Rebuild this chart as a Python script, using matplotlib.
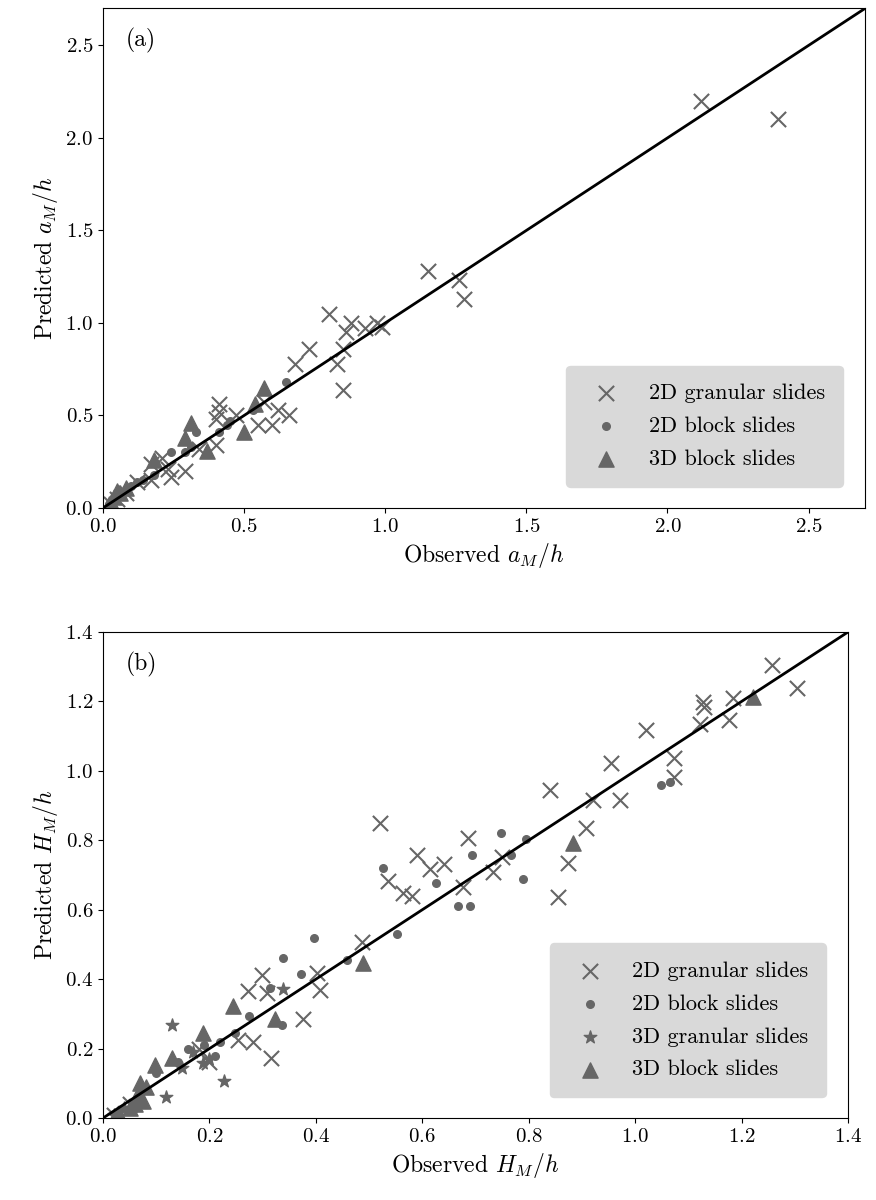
import numpy as np
import matplotlib
matplotlib.use("Agg")
import matplotlib.pyplot as plt

plt.rcParams.update({
    "font.family": "serif",
    "font.serif": ["cmr10"],
    "mathtext.fontset": "cm",
    "axes.formatter.use_mathtext": True,
    "font.size": 15,
})

# ---- panel (a): a_M/h ----
a_gran_obs = [2.12, 2.39, 1.15, 1.26, 1.28, 0.80, 0.88, 0.86, 0.93, 0.97, 0.99, 0.85, 0.83, 0.85,
              0.73, 0.68, 0.41, 0.41, 0.40, 0.47, 0.57, 0.62, 0.66, 0.55, 0.60, 0.40, 0.34, 0.21,
              0.23, 0.29, 0.17, 0.17, 0.24, 0.12, 0.08, 0.05, 0.03]
a_gran_pred = [2.20, 2.10, 1.28, 1.23, 1.13, 1.05, 1.00, 0.95, 0.97, 1.00, 0.98, 0.86, 0.78, 0.64,
               0.86, 0.78, 0.56, 0.52, 0.48, 0.50, 0.57, 0.53, 0.50, 0.45, 0.45, 0.34, 0.32, 0.27,
               0.21, 0.20, 0.24, 0.15, 0.17, 0.14, 0.08, 0.05, 0.02]
a_block2_obs = [0.65, 0.53, 0.45, 0.44, 0.41, 0.33, 0.31, 0.24, 0.29, 0.18, 0.14, 0.12, 0.10, 0.08,
                0.06, 0.05, 0.04, 0.03, 0.02]
a_block2_pred = [0.68, 0.53, 0.47, 0.45, 0.41, 0.41, 0.33, 0.30, 0.30, 0.18, 0.15, 0.14, 0.12, 0.10,
                 0.08, 0.06, 0.05, 0.03, 0.02]
a_block3_obs = [0.57, 0.31, 0.29, 0.37, 0.50, 0.18, 0.54, 0.08, 0.06, 0.04, 0.03, 0.02, 0.05]
a_block3_pred = [0.65, 0.46, 0.38, 0.31, 0.41, 0.26, 0.56, 0.11, 0.08, 0.06, 0.03, 0.02, 0.09]

# ---- panel (b): H_M/h ----
h_gran_obs = [0.84, 0.52, 0.686, 0.59, 0.615, 0.64, 0.536, 0.564, 0.58, 0.677, 0.733, 0.75, 0.874,
              0.855, 0.487, 0.299, 0.273, 0.308, 0.402, 0.408, 0.376, 0.282, 0.315, 0.254, 1.258,
              1.305, 1.128, 1.13, 1.184, 1.177, 1.122, 1.02, 0.955, 1.073, 1.073, 0.972, 0.921,
              0.908, 0.20, 0.18, 0.05, 0.02]
h_gran_pred = [0.945, 0.85, 0.807, 0.757, 0.717, 0.732, 0.683, 0.648, 0.64, 0.666, 0.709, 0.752,
               0.734, 0.637, 0.507, 0.412, 0.366, 0.361, 0.418, 0.369, 0.285, 0.219, 0.173, 0.225,
               1.306, 1.239, 1.199, 1.185, 1.21, 1.147, 1.135, 1.118, 1.023, 1.037, 0.983, 0.916,
               0.916, 0.836, 0.16, 0.20, 0.04, 0.01]
h_block2_obs = [0.526, 0.626, 0.693, 0.748, 0.795, 0.767, 0.789, 0.667, 0.69, 0.553, 0.397, 0.339,
                0.372, 0.459, 0.314, 0.274, 0.336, 0.248, 1.049, 1.066, 0.19, 0.16, 0.22, 0.14,
                0.21, 0.10, 0.07, 0.03]
h_block2_pred = [0.72, 0.678, 0.758, 0.82, 0.803, 0.758, 0.69, 0.61, 0.61, 0.53, 0.52, 0.46, 0.415,
                 0.455, 0.375, 0.294, 0.268, 0.245, 0.96, 0.968, 0.21, 0.20, 0.22, 0.16, 0.18,
                 0.13, 0.08, 0.02]
h_gran3_obs = [0.13, 0.339, 0.227, 0.118, 0.148, 0.188, 0.20, 0.17, 0.06, 0.04, 0.02]
h_gran3_pred = [0.268, 0.372, 0.107, 0.06, 0.144, 0.158, 0.17, 0.19, 0.05, 0.03, 0.01]
h_block3_obs = [0.883, 1.222, 0.489, 0.245, 0.324, 0.188, 0.13, 0.098, 0.07, 0.065, 0.06, 0.075,
                0.08, 0.05, 0.03]
h_block3_pred = [0.792, 1.213, 0.447, 0.323, 0.285, 0.245, 0.173, 0.153, 0.10, 0.07, 0.04, 0.05,
                 0.09, 0.03, 0.01]

GREY = "#666666"

fig = plt.figure(figsize=(8.76, 12), dpi=100)
ax1 = fig.add_axes([0.1176, 0.5767, 0.8699, 0.4163])
ax2 = fig.add_axes([0.1176, 0.0683, 0.8504, 0.405])

def style(ax, lim, ticks, label, tag):
    ax.plot([0, lim], [0, lim], color="black", lw=2, zorder=3)
    ax.set_xlim(0, lim); ax.set_ylim(0, lim)
    ax.set_xticks(ticks); ax.set_yticks(ticks)
    ax.set_xlabel("Observed $%s$" % label, fontsize=17)
    ax.set_ylabel("Predicted $%s$" % label, fontsize=17)
    ax.tick_params(labelsize=15)
    ax.text(0.03, 0.96, tag, transform=ax.transAxes, fontsize=17, va="top")
    ax.legend(loc="lower right", fontsize=16, facecolor="#d9d9d9", framealpha=1,
              edgecolor="#d9d9d9", borderpad=0.8, labelspacing=0.6, handletextpad=0.9,
              bbox_to_anchor=(0.985, 0.02))

kw_x = dict(marker="x", s=120, color=GREY, linewidths=1.5, label="2D granular slides")
kw_o = dict(marker="o", s=30, color=GREY, label="2D block slides")
kw_s = dict(marker="*", s=90, color=GREY, label="3D granular slides")
kw_t = dict(marker="^", s=120, color=GREY, label="3D block slides")

ax1.scatter(a_gran_obs, a_gran_pred, **kw_x)
ax1.scatter(a_block2_obs, a_block2_pred, **kw_o)
ax1.scatter(a_block3_obs, a_block3_pred, **kw_t)
style(ax1, 2.7, [0.0, 0.5, 1.0, 1.5, 2.0, 2.5], "a_M/h", "(a)")

ax2.scatter(h_gran_obs, h_gran_pred, **kw_x)
ax2.scatter(h_block2_obs, h_block2_pred, **kw_o)
ax2.scatter(h_gran3_obs, h_gran3_pred, **kw_s)
ax2.scatter(h_block3_obs, h_block3_pred, **kw_t)
style(ax2, 1.4, [0.0, 0.2, 0.4, 0.6, 0.8, 1.0, 1.2, 1.4], "H_M/h", "(b)")

fig.savefig("out.png", dpi=100)
